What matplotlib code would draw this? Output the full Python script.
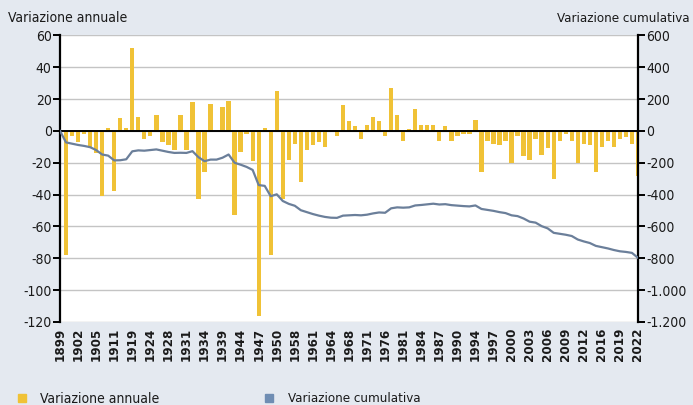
import matplotlib
matplotlib.use('Agg')
import matplotlib.pyplot as plt
import numpy as np
from matplotlib.ticker import FuncFormatter

plt.rcParams['font.family'] = ['DejaVu Sans']
plt.rcParams['font.stretch'] = 'condensed'
plt.rcParams['axes.unicode_minus'] = False

# Data (one value per survey, 97 surveys 1899 - 2022)
tick_labels = ['1899', '1902', '1905', '1911', '1919', '1924', '1928', '1931', '1934',
               '1939', '1944', '1947', '1950', '1958', '1961', '1964', '1968', '1971',
               '1976', '1981', '1984', '1987', '1990', '1994', '1997', '2000', '2003',
               '2006', '2009', '2012', '2016', '2019', '2022']

annual = [0, -78, -3, -7, -2, -10, -14, -41, 2, -38,
          8, 2, 52, 9, -5, -3, 10, -7, -9, -12,
          10, -12, 18, -43, -26, 17, 0, 15, 19, -53,
          -13, -2, -19, -116, 2, -78, 25, -43, -18, -8,
          -32, -12, -9, -7, -10, 0, -3, 16, 6, 3,
          -5, 4, 9, 6, -3, 27, 10, -6, 1, 14,
          4, 4, 4, -6, 3, -6, -3, -2, -2, 7,
          -26, -6, -8, -9, -6, -20, -3, -16, -18, -5,
          -15, -11, -30, -6, -2, -6, -20, -8, -9, -26,
          -10, -6, -10, -5, -4, -8, -28]

cumulative = [0, -72, -80, -88, -94, -102, -120, -148, -155, -185,
              -184, -178, -128, -122, -124, -120, -116, -124, -132, -138,
              -137, -138, -127, -165, -190, -180, -180, -168, -148, -200,
              -212, -226, -245, -340, -345, -410, -398, -440, -458, -470,
              -498, -510, -522, -532, -540, -545, -546, -532, -530, -528,
              -530, -526, -518, -512, -514, -486, -480, -482, -480, -468,
              -465, -461, -457, -462, -460, -466, -469, -472, -474, -468,
              -490, -496, -502, -510, -516, -530, -535, -550, -570, -576,
              -598, -612, -640, -646, -652, -660, -682, -694, -704, -722,
              -730, -738, -748, -756, -760, -766, -797]

bar_color = '#f0c236'
line_color = '#6b7f9a'
text_color = '#1a1a1a'

x = np.arange(len(annual))

fig = plt.figure(figsize=(6.93, 4.05), dpi=100, facecolor='#e4e9f0')
ax = fig.add_axes([0.0866, 0.205, 0.834, 0.7075])
ax.set_facecolor('white')
ax2 = ax.twinx()

# Grid
for v in range(-120, 61, 20):
    ax.axhline(v, color='#c4c4c4', lw=1.0, zorder=0)

ax.bar(x, annual, width=0.72, color=bar_color, zorder=2)
ax.axhline(0, color='black', lw=1.4, zorder=3)
ax2.plot(x, cumulative, color=line_color, lw=1.6, zorder=4)

ax.set_xlim(0, len(annual) - 1)
ax.set_ylim(-120, 60)
ax2.set_ylim(-1200, 600)
ax.set_yticks(range(-120, 61, 20))
ax2.set_yticks(range(-1200, 601, 200))
ax2.yaxis.set_major_formatter(FuncFormatter(lambda v, p: f'{int(v):,}'.replace(',', '.')))

ax.set_xticks(x[::3])
ax.set_xticklabels(tick_labels, rotation=90, fontsize=9.5, fontweight='bold')
ax.tick_params(axis='x', length=0, pad=4, labelcolor=text_color)
ax.tick_params(axis='y', length=5, width=1.4, labelsize=10, pad=1, labelcolor=text_color)
ax2.tick_params(axis='y', length=5, width=1.4, labelsize=10, pad=1, labelcolor=text_color)

for a in (ax, ax2):
    a.spines['top'].set_visible(False)
    a.spines['bottom'].set_visible(False)
ax.spines['left'].set_linewidth(1.6)
ax2.spines['right'].set_linewidth(1.6)
ax.spines['right'].set_visible(False)
ax2.spines['left'].set_visible(False)

fig.text(0.012, 0.955, 'Variazione annuale', fontsize=10, color=text_color, va='center')
fig.text(0.995, 0.955, 'Variazione cumulativa', fontsize=9.5, color=text_color, va='center', ha='right')

# Legend at the bottom
fig.patches.append(plt.Rectangle((0.026, 0.007), 0.011, 0.02, transform=fig.transFigure,
                                 color=bar_color, figure=fig))
fig.text(0.058, 0.016, 'Variazione annuale', fontsize=10, color=text_color, va='center')
fig.patches.append(plt.Rectangle((0.383, 0.007), 0.011, 0.02, transform=fig.transFigure,
                                 color='#6f8db3', figure=fig))
fig.text(0.415, 0.016, 'Variazione cumulativa', fontsize=9.5, color=text_color, va='center')

fig.savefig('out.png', dpi=100, facecolor=fig.get_facecolor())
